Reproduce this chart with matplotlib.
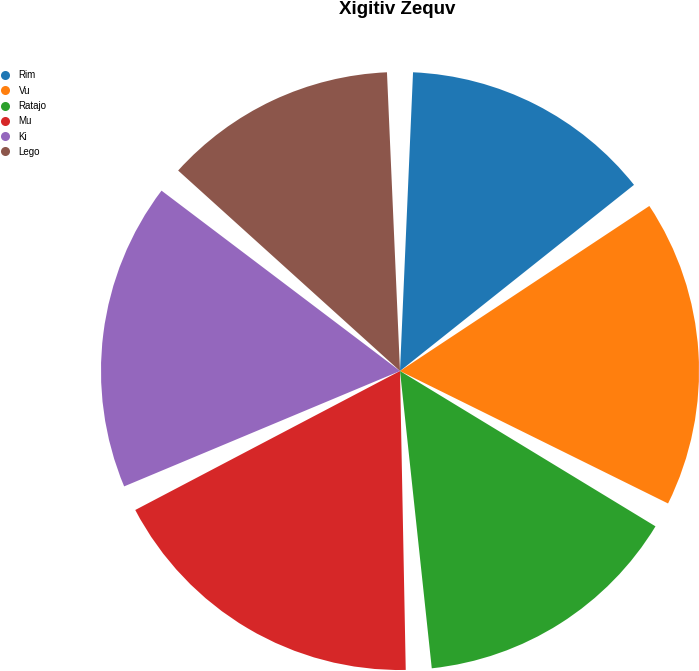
import matplotlib
matplotlib.use("Agg")
from matplotlib import pyplot as plt
from matplotlib.lines import Line2D

plt.rcParams['font.family'] = ['Liberation Sans', 'DejaVu Sans']

# dữ liệu
labels = ['Rim', 'Vu', 'Ratajo', 'Mu', 'Ki', 'Lego']
values = [15, 18, 16, 19, 18, 14]
colors = ['#1f77b4', '#ff7f0e', '#2ca02c', '#d62728', '#9467bd', '#8c564b']
title = 'Xigitiv Zequv'
pad_angle = 5.0  # khoảng hở giữa các miếng (độ)

W, H = 699, 671
fig = plt.figure(figsize=(W / 100, H / 100), dpi=100)

# trục chứa hình tròn: tâm (400, 371), bán kính 299 px
cx, cy, r = 400, 371, 299
ax = fig.add_axes([(cx - r) / W, (H - cy - r) / H, 2 * r / W, 2 * r / H])
wedges, _ = ax.pie(values, colors=colors, startangle=90, counterclock=False,
                   radius=1.0, wedgeprops=dict(linewidth=0))
for w in wedges:
    w.set_theta1(w.theta1 + pad_angle / 2)
    w.set_theta2(w.theta2 - pad_angle / 2)
    w.set_clip_on(False)
ax.set_xlim(-1, 1)
ax.set_ylim(-1, 1)
ax.set_aspect('equal')
ax.axis('off')

fig.text(397 / W, 1 - 10 / H, title, ha='center', va='center',
         fontsize=13.5, fontweight='bold', color='black')

handles = [Line2D([], [], marker='o', linestyle='', markersize=6.5,
                  markerfacecolor=c, markeredgewidth=0) for c in colors]
fig.legend(handles, labels, loc='upper left',
           bbox_to_anchor=(0.0, 1 - 70.5 / H), bbox_transform=fig.transFigure,
           frameon=False, borderpad=0, borderaxespad=0, fontsize=7,
           handlelength=0.95, handletextpad=0.95, labelspacing=0.54)

fig.savefig('out.png', dpi=100)
